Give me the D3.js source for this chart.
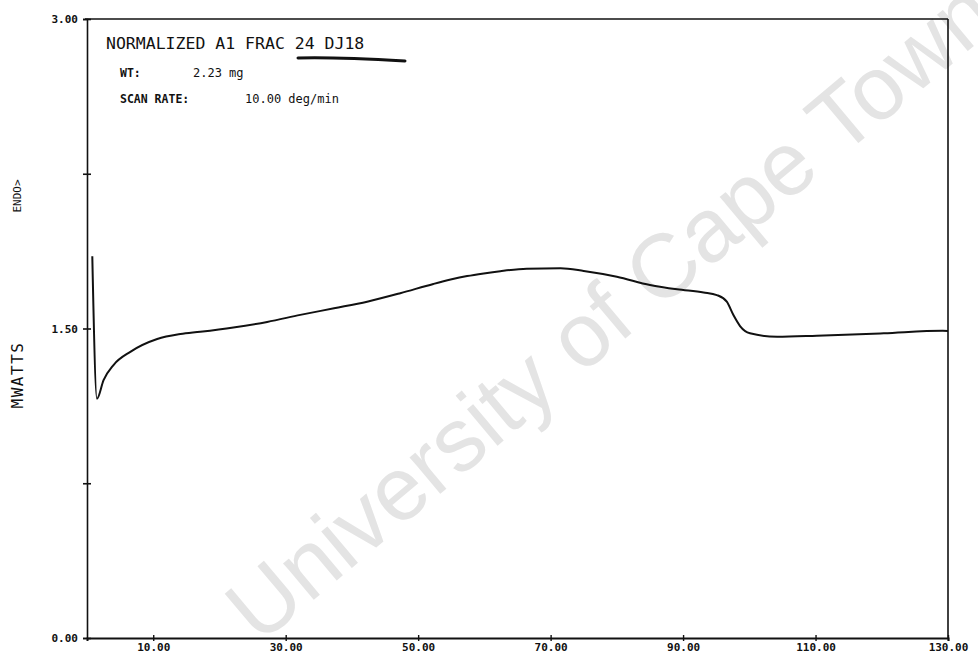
<!DOCTYPE html>
<html><head><meta charset="utf-8">
<script src="https://cdn.jsdelivr.net/npm/d3@7/dist/d3.min.js"></script>
<style>
body{margin:0;background:#fff;}
svg{display:block;}
text{fill:#111;}
</style></head>
<body>
<svg id="c" width="978" height="659"></svg>
<script>
// ---- data ----
const tempValues = [0.8, 1.5, 2.5, 4.0, 6.6, 10.6, 14.1, 17.1, 22.1, 27.2, 32.2, 37.3, 42.3, 47.3, 52.3, 54.9, 57.4, 59.9, 62.4, 66.4, 71.5, 75.0, 80.0, 85.0, 89.1, 93.1, 95.1, 96.6, 97.6, 98.6, 100.1, 104.2, 110.2, 120.3, 129.2, 130.0];
const mwattValues = [1.85, 1.16, 1.25, 1.323, 1.388, 1.449, 1.473, 1.484, 1.505, 1.532, 1.566, 1.598, 1.630, 1.671, 1.716, 1.737, 1.754, 1.767, 1.778, 1.790, 1.792, 1.779, 1.751, 1.711, 1.690, 1.675, 1.662, 1.630, 1.565, 1.512, 1.477, 1.460, 1.465, 1.477, 1.489, 1.488];
const xTickValues = [10, 30, 50, 70, 90, 110, 130];
const yTickValues = [0, 0.75, 1.5, 2.25, 3.0];
const yLabelValues = [0, 1.5, 3.0];
const titleLines = ["NORMALIZED A1 FRAC 24 DJ18"];
const infoLabels = ["WT:", "SCAN RATE:"];
const infoValues = ["2.23 mg", "10.00 deg/min"];
const yAxisTitle = "MWATTS";
const endoLabel = "ENDO>";
const watermark = "University of Cape Town";

const svg = d3.select("#c");
const pLeft = 87, pRight = 948, pTop = 19, pBottom = 638;
const x = d3.scaleLinear().domain([0, 130]).range([pLeft, pRight]);
const y = d3.scaleLinear().domain([0, 3]).range([pBottom, pTop]);

// watermark
svg.append("text")
  .attr("transform", "translate(615,316) rotate(-40)")
  .attr("text-anchor", "middle")
  .attr("dominant-baseline", "middle")
  .style("font-family", "Liberation Sans, Arial, sans-serif")
  .style("font-size", "90px")
  .style("fill", "#e4e4e4")
  .text(watermark);

const ink = "#111";
// frame
svg.append("line").attr("x1", pLeft - 2).attr("x2", pRight).attr("y1", pTop).attr("y2", pTop).attr("stroke", ink).attr("stroke-width", 1.6);
svg.append("line").attr("x1", pRight).attr("x2", pRight).attr("y1", pTop).attr("y2", pBottom).attr("stroke", ink).attr("stroke-width", 1.6);

// axes
const mono = "DejaVu Sans Mono, Liberation Mono, monospace";
const yAxis = d3.axisLeft(y).tickValues(yTickValues).tickSize(4).tickFormat(d => yLabelValues.includes(d) ? d.toFixed(2) : "");
const gy = svg.append("g").attr("transform", `translate(${pLeft},0)`).call(yAxis);
gy.select(".domain").attr("stroke", ink).attr("stroke-width", 1.6);
gy.selectAll(".tick line").attr("x1", -4).attr("x2", 4).attr("stroke", ink).attr("stroke-width", 1.6);
gy.selectAll(".tick text").attr("x", -9).style("font-family", mono).style("font-weight", "bold").style("font-size", "11px").style("fill", ink);

const xAxis = d3.axisBottom(x).tickValues(xTickValues).tickSize(3).tickFormat(d => d.toFixed(2));
const gx = svg.append("g").attr("transform", `translate(0,${pBottom})`).call(xAxis);
gx.select(".domain").attr("stroke", ink).attr("stroke-width", 2);
gx.selectAll(".tick line").attr("y1", -3).attr("y2", 3).attr("stroke", ink).attr("stroke-width", 1.4);
gx.selectAll(".tick text").attr("y", 5).style("font-family", mono).style("font-weight", "bold").style("font-size", "11px").style("fill", ink);

// y axis titles
svg.append("text").attr("transform", "translate(23,375) rotate(-90)").attr("text-anchor", "middle")
  .style("font-family", mono).style("font-size", "16px").style("letter-spacing", "1.5px").text(yAxisTitle);
svg.append("text").attr("transform", "translate(21,196) rotate(-90)").attr("text-anchor", "middle")
  .style("font-family", mono).style("font-size", "11px").text(endoLabel);

// title block
svg.append("text").attr("x", 106).attr("y", 49).style("font-family", mono).style("font-size", "16.5px").text(titleLines[0]);
svg.append("path").attr("d", "M298,58 C330,57 370,59 405,61").attr("fill", "none").attr("stroke", ink).attr("stroke-width", 3).attr("stroke-linecap", "round");
infoLabels.forEach((t, i) => {
  const yy = [77, 103][i];
  svg.append("text").attr("x", 120).attr("y", yy).style("font-family", mono).style("font-size", "11.5px").style("font-weight", "bold").text(t);
  svg.append("text").attr("x", [193, 245][i]).attr("y", yy).style("font-family", mono).style("font-size", "12px").text(infoValues[i]);
});

// curve
const pts = tempValues.map((t, i) => [t, mwattValues[i]]);
const line = d3.line().x(d => x(d[0])).y(d => y(d[1])).curve(d3.curveMonotoneX);
svg.append("path").datum(pts).attr("d", line).attr("fill", "none").attr("stroke", ink).attr("stroke-width", 2);
</script>
</body></html>
